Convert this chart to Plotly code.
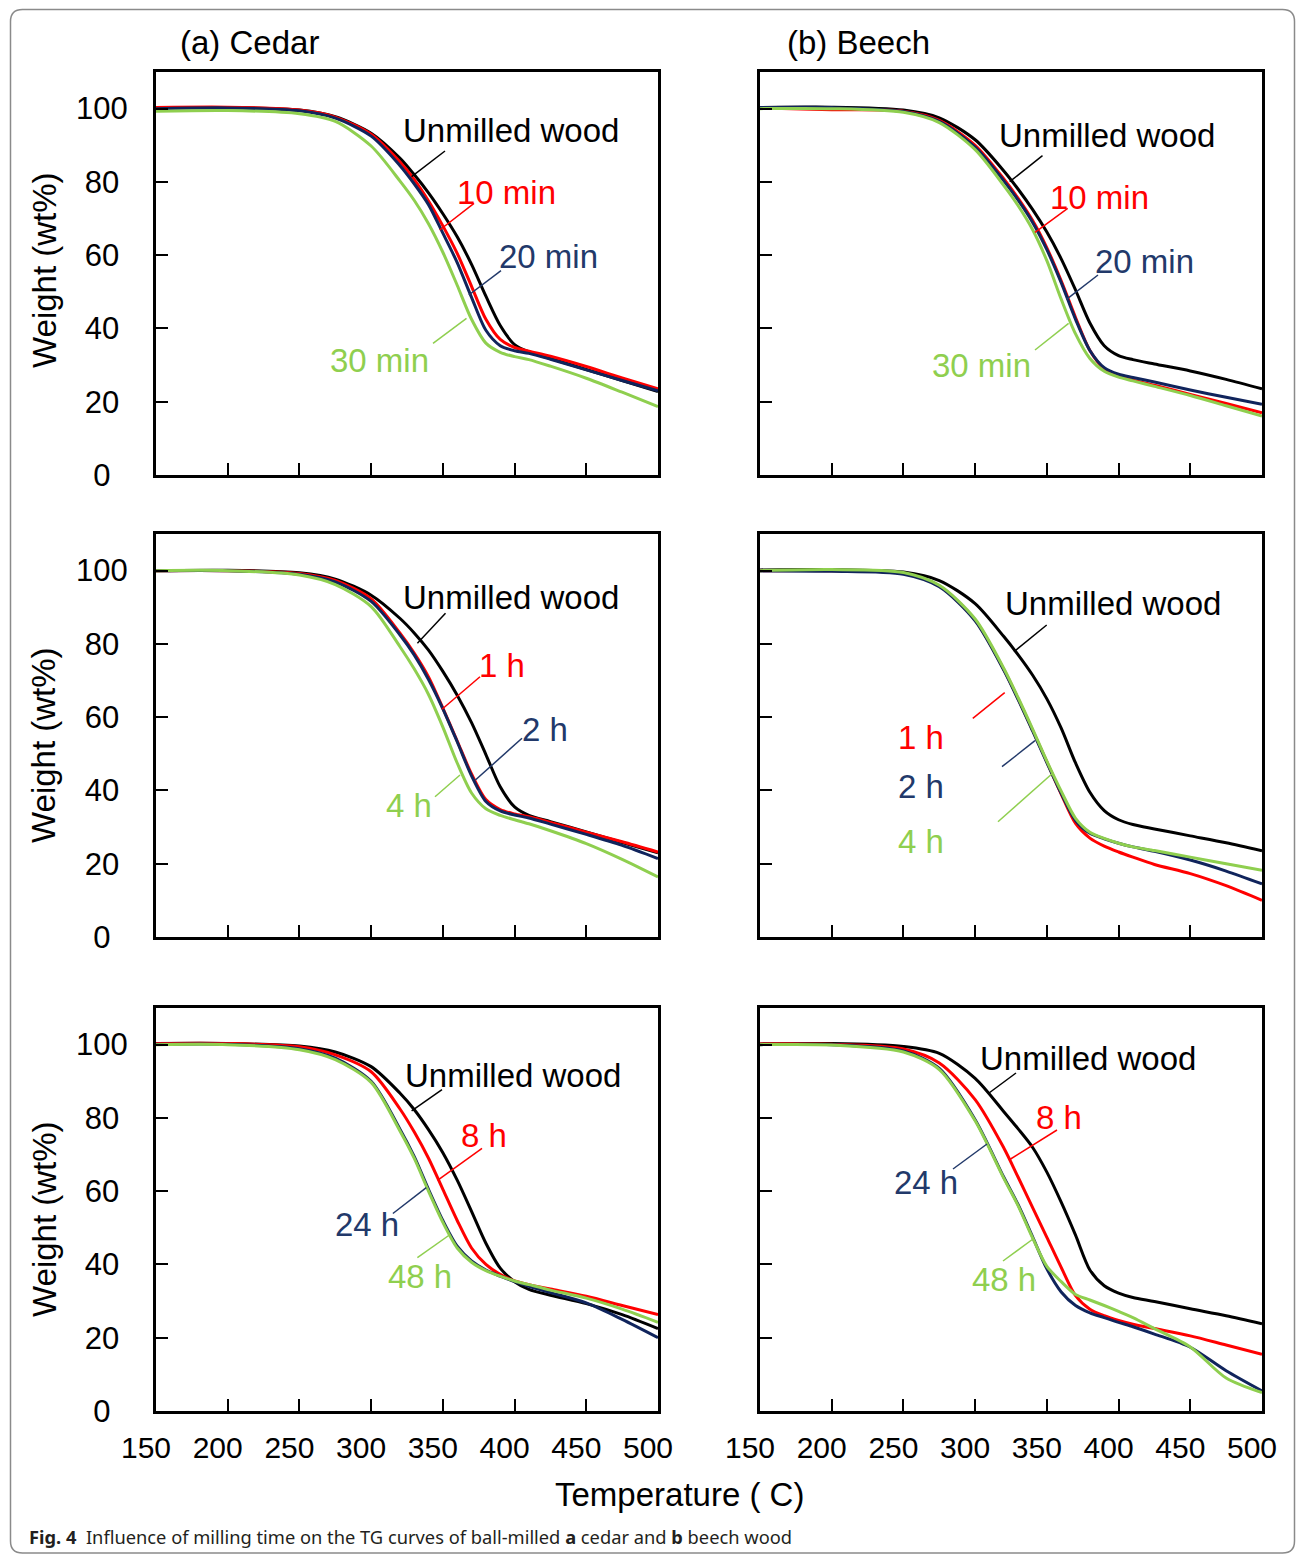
import plotly.graph_objects as go

FIG_W, FIG_H = 1298, 1556

# ---------------- data (temperature in deg C, weight in wt%) ----------------
temps = [150, 200, 250, 275, 300, 320, 330, 340, 350, 360, 370, 380, 390, 400, 410, 425, 450, 475, 500]

# (a) Cedar - 10/20/30 min
cedar_min_unmilled = [100.2, 100.3, 99.6, 97.8, 93.3, 86.5, 82.0, 77.0, 71.3, 65.0, 57.5, 48.8, 40.8, 35.6, 33.6, 31.8, 28.8, 25.8, 22.8]
cedar_10min = [100.3, 100.4, 99.6, 97.7, 93.0, 85.5, 80.7, 74.8, 68.0, 60.5, 51.5, 42.5, 37.0, 34.8, 33.8, 32.4, 29.6, 26.5, 23.5]
cedar_20min = [100.0, 100.2, 99.4, 97.4, 92.5, 84.5, 79.5, 73.8, 66.0, 58.0, 48.5, 39.5, 35.3, 33.9, 33.2, 31.6, 28.7, 25.8, 23.0]
cedar_30min = [99.3, 99.5, 98.6, 96.5, 89.8, 80.3, 75.0, 68.6, 60.8, 51.8, 42.5, 36.0, 33.5, 32.3, 31.5, 29.7, 26.4, 22.6, 18.7]

# (a) Cedar - 1/2/4 h
cedar_h_unmilled = [100.0, 100.1, 99.4, 97.7, 93.3, 87.0, 83.0, 78.3, 72.5, 66.0, 58.5, 49.8, 41.0, 35.5, 33.2, 31.5, 28.7, 25.8, 23.0]
cedar_1h = [100.0, 100.0, 99.2, 97.3, 92.3, 83.0, 77.5, 71.0, 62.5, 53.5, 44.5, 37.5, 34.8, 33.6, 32.8, 31.3, 28.6, 26.0, 23.2]
cedar_2h = [100.0, 100.0, 99.0, 96.9, 91.6, 82.5, 77.0, 70.3, 62.3, 53.3, 44.0, 37.0, 34.4, 33.3, 32.5, 30.8, 28.0, 25.0, 21.4]
cedar_4h = [100.0, 100.0, 98.8, 96.2, 90.2, 79.3, 73.2, 66.2, 57.3, 47.5, 39.3, 35.0, 33.2, 32.0, 30.9, 29.0, 25.5, 21.2, 16.4]

# (a) Cedar - 8/24/48 h
cedar_l_unmilled = [100.3, 100.3, 99.6, 98.0, 94.0, 86.8, 82.3, 76.8, 70.5, 63.0, 54.5, 45.8, 39.0, 35.3, 33.2, 31.6, 29.3, 26.3, 22.5]
cedar_8h = [100.3, 100.3, 99.4, 97.2, 92.6, 82.5, 76.2, 69.0, 60.5, 52.0, 44.5, 40.0, 37.3, 35.5, 34.5, 33.3, 31.3, 28.8, 26.3]
cedar_24h = [100.1, 100.1, 98.9, 96.3, 90.0, 77.0, 69.5, 60.5, 52.0, 45.0, 41.0, 38.5, 36.8, 35.3, 34.0, 32.3, 29.5, 25.0, 20.0]
cedar_48h = [100.0, 100.0, 98.6, 95.9, 89.7, 76.5, 69.0, 60.0, 51.5, 44.5, 40.6, 38.3, 36.8, 35.5, 34.5, 33.0, 30.8, 27.8, 24.2]

# (b) Beech - 10/20/30 min
beech_min_unmilled = [100.3, 100.4, 99.6, 97.5, 91.5, 83.0, 78.0, 72.5, 66.3, 59.0, 50.5, 41.5, 35.3, 32.6, 31.5, 30.3, 28.4, 26.1, 23.5]
beech_10min = [100.2, 99.7, 99.3, 96.8, 90.0, 80.8, 75.5, 69.5, 62.0, 53.0, 43.0, 34.0, 29.0, 27.0, 25.9, 24.5, 22.0, 19.5, 17.0]
beech_20min = [100.3, 100.3, 99.2, 96.5, 89.5, 80.3, 75.0, 69.0, 61.5, 52.5, 42.5, 34.0, 29.3, 27.5, 26.6, 25.4, 23.2, 21.2, 19.3]
beech_30min = [100.0, 100.0, 99.0, 96.2, 88.8, 79.0, 73.5, 67.0, 58.5, 48.0, 38.5, 31.8, 28.3, 26.7, 25.7, 24.2, 21.7, 18.9, 16.1]

# (b) Beech - 1/2/4 h
beech_h_unmilled = [100.2, 100.3, 99.6, 97.3, 91.0, 82.0, 77.0, 71.5, 65.0, 57.0, 47.5, 39.5, 34.5, 32.0, 30.7, 29.5, 27.6, 25.7, 23.5]
beech_1h = [100.0, 100.0, 99.2, 95.8, 86.5, 73.0, 65.0, 56.5, 47.8, 39.0, 31.0, 27.0, 24.8, 23.2, 21.8, 19.8, 17.3, 14.0, 10.0]
beech_2h = [99.9, 99.8, 99.0, 95.6, 86.3, 72.8, 64.8, 56.3, 47.6, 39.2, 31.8, 28.3, 26.8, 25.6, 24.6, 23.4, 21.0, 18.0, 14.5]
beech_4h = [100.0, 100.3, 99.5, 96.0, 86.8, 73.3, 65.3, 56.8, 48.0, 39.8, 32.4, 28.6, 26.9, 25.6, 24.6, 23.6, 21.8, 20.0, 18.2]

# (b) Beech - 8/24/48 h
beech_l_unmilled = [100.2, 100.3, 99.5, 97.6, 90.8, 81.7, 77.0, 72.0, 65.2, 57.0, 48.0, 38.5, 34.2, 32.2, 31.0, 29.9, 27.9, 26.0, 23.8]
beech_8h = [100.2, 100.1, 98.8, 95.0, 85.0, 71.8, 63.8, 55.6, 47.4, 39.2, 31.5, 27.8, 26.0, 24.7, 23.7, 22.5, 20.5, 18.0, 15.5]
beech_24h = [100.0, 100.0, 98.3, 93.5, 79.5, 63.8, 56.3, 47.6, 38.8, 32.5, 28.8, 26.8, 25.5, 24.2, 23.0, 21.0, 17.4, 11.0, 5.5]
beech_48h = [100.0, 99.9, 98.0, 93.2, 79.2, 63.5, 56.0, 47.3, 39.5, 35.3, 31.8, 30.3, 28.8, 27.2, 25.5, 22.5, 17.5, 9.0, 5.0]

x_ticks = [150, 200, 250, 300, 350, 400, 450, 500]
y_ticks = [0, 20, 40, 60, 80, 100]
y_tick_text = ["0\u2007", "20\u2008", "40\u2008", "60\u2008", "80\u2008", "100"]

# ---------------- styles ----------------
C_BLACK = "#000000"
C_RED = "#ff0000"
C_NAVY = "#10245c"
C_NAVY_TXT = "#22396a"
C_GREEN = "#8fcf4f"
FONT = "Liberation Sans, Arial, sans-serif"


def px(x):
    return x / FIG_W


def py(y):
    return 1 - y / FIG_H


col_dom = [[px(156), px(658)], [px(760), px(1262)]]
row_pix = [(475, 72), (937, 534), (1411, 1008)]
row_dom = [[py(b), py(t)] for b, t in row_pix]

panels = [
    (0, 0, [(cedar_min_unmilled, C_BLACK), (cedar_10min, C_RED), (cedar_20min, C_NAVY), (cedar_30min, C_GREEN)]),
    (0, 1, [(beech_min_unmilled, C_BLACK), (beech_10min, C_RED), (beech_20min, C_NAVY), (beech_30min, C_GREEN)]),
    (1, 0, [(cedar_h_unmilled, C_BLACK), (cedar_1h, C_RED), (cedar_2h, C_NAVY), (cedar_4h, C_GREEN)]),
    (1, 1, [(beech_h_unmilled, C_BLACK), (beech_1h, C_RED), (beech_2h, C_NAVY), (beech_4h, C_GREEN)]),
    (2, 0, [(cedar_l_unmilled, C_BLACK), (cedar_8h, C_RED), (cedar_24h, C_NAVY), (cedar_48h, C_GREEN)]),
    (2, 1, [(beech_l_unmilled, C_BLACK), (beech_8h, C_RED), (beech_24h, C_NAVY), (beech_48h, C_GREEN)]),
]

fig = go.Figure()
layout_axes = {}
for i, (r, c, series) in enumerate(panels, start=1):
    sfx = "" if i == 1 else str(i)
    for vals, col in series:
        fig.add_trace(go.Scatter(
            x=temps, y=vals, mode="lines",
            line=dict(color=col, width=3, shape="spline", smoothing=0.8),
            xaxis="x" + sfx, yaxis="y" + sfx, hoverinfo="skip", showlegend=False,
        ))
    common = dict(showline=True, mirror=True, linecolor="black", linewidth=3,
                  ticks="inside", ticklen=12, tickwidth=2, tickcolor="black",
                  showgrid=False, zeroline=False, fixedrange=True, automargin=False)
    layout_axes["xaxis" + sfx] = dict(
        common, domain=col_dom[c], range=[150, 500], anchor="y" + sfx,
        tickvals=x_ticks, ticktext=[str(v) for v in x_ticks],
        showticklabels=(r == 2), ticklabelstandoff=8, ticklabelshift=-10,
        tickfont=dict(family=FONT, size=30, color="black"))
    layout_axes["yaxis" + sfx] = dict(
        common, domain=row_dom[r], range=[0, 110], anchor="x" + sfx,
        tickvals=y_ticks, ticktext=y_tick_text,
        showticklabels=(c == 0), ticklabelstandoff=19,
        tickfont=dict(family=FONT, size=31, color="black"))

# ---------------- curve labels and leader lines (pixel layout) ----------------
labels = [
    ("Unmilled wood", C_BLACK, 401, 130), ("10 min", C_RED, 455, 192.5),
    ("20 min", C_NAVY_TXT, 496.5, 256.5), ("30 min", C_GREEN, 328, 360),
    ("Unmilled wood", C_BLACK, 997, 135), ("10 min", C_RED, 1048, 198),
    ("20 min", C_NAVY_TXT, 1093, 262), ("30 min", C_GREEN, 930, 366),
    ("Unmilled wood", C_BLACK, 401, 597), ("1 h", C_RED, 477, 665.7),
    ("2 h", C_NAVY_TXT, 520, 729), ("4 h", C_GREEN, 384, 805),
    ("Unmilled wood", C_BLACK, 1003, 604), ("1 h", C_RED, 896, 737),
    ("2 h", C_NAVY_TXT, 896, 786), ("4 h", C_GREEN, 896, 841.7),
    ("Unmilled wood", C_BLACK, 403, 1075), ("8 h", C_RED, 459, 1135),
    ("24 h", C_NAVY_TXT, 332.6, 1224.5), ("48 h", C_GREEN, 386, 1276),
    ("Unmilled wood", C_BLACK, 978, 1058), ("8 h", C_RED, 1034, 1117.5),
    ("24 h", C_NAVY_TXT, 892, 1182), ("48 h", C_GREEN, 970, 1279),
]
leaders = [
    (C_BLACK, 445, 151, 411.6, 176.7), (C_RED, 474, 203.3, 439.7, 230),
    (C_NAVY_TXT, 501, 270.7, 468.8, 295), (C_GREEN, 466.5, 318.3, 433, 343.3),
    (C_BLACK, 1042.5, 155.7, 1009.7, 181.7), (C_RED, 1067.7, 208.3, 1035, 232.3),
    (C_NAVY_TXT, 1098, 275, 1066.5, 299.3), (C_GREEN, 1068.6, 323.3, 1035, 350),
    (C_BLACK, 445.5, 613.3, 417.4, 643.3), (C_RED, 480, 676.7, 442, 709.3),
    (C_NAVY_TXT, 522, 738.3, 475.4, 780), (C_GREEN, 435, 796.7, 460, 775),
    (C_BLACK, 1046.7, 625, 1014, 651.7), (C_RED, 1004.7, 692.7, 972.8, 718.3),
    (C_NAVY_TXT, 1035, 740.7, 1002, 766.7), (C_GREEN, 1051.8, 774, 998, 821.7),
    (C_BLACK, 442, 1089.6, 411.6, 1110.9), (C_RED, 482, 1148.4, 437.5, 1180.4),
    (C_NAVY_TXT, 392.9, 1213.5, 426.3, 1187.7), (C_GREEN, 417.4, 1257.6, 448.7, 1235.5),
    (C_BLACK, 1016, 1073, 989, 1093), (C_RED, 1057, 1130, 1009, 1160),
    (C_NAVY_TXT, 953, 1169, 987, 1144), (C_GREEN, 1003, 1261, 1033, 1239),
]

annotations = []
for text, col, lx, cy in labels:
    annotations.append(dict(text=text, x=px(lx), y=py(cy), xref="paper", yref="paper",
                            xanchor="left", yanchor="middle", showarrow=False,
                            font=dict(family=FONT, size=33, color=col)))

for text, lx in [("(a) Cedar", 178), ("(b) Beech", 785)]:
    annotations.append(dict(text=text, x=px(lx), y=py(43), xref="paper", yref="paper",
                            xanchor="left", yanchor="middle", showarrow=False,
                            font=dict(family=FONT, size=33, color="black")))

for cy in [270, 745, 1219]:
    annotations.append(dict(text="Weight (wt%)", x=px(44), y=py(cy), xref="paper", yref="paper",
                            xanchor="center", yanchor="middle", showarrow=False, textangle=-90,
                            font=dict(family=FONT, size=33, color="black")))

annotations.append(dict(text="Temperature ( C)", x=px(679), y=py(1494), xref="paper", yref="paper",
                        xanchor="center", yanchor="middle", showarrow=False,
                        font=dict(family=FONT, size=33, color="black")))

annotations.append(dict(
    text="<b>Fig. 4</b>  Influence of milling time on the TG curves of ball-milled <b>a</b> cedar and <b>b</b> beech wood",
    x=px(27), y=py(1536), xref="paper", yref="paper", xanchor="left", yanchor="middle",
    showarrow=False, font=dict(family="Noto Sans, Open Sans, sans-serif", size=18.3, color="#231f20")))

shapes = []
for col, x0, y0, x1, y1 in leaders:
    shapes.append(dict(type="line", xref="paper", yref="paper",
                       x0=px(x0), y0=py(y0), x1=px(x1), y1=py(y1),
                       line=dict(color=col, width=1.5)))

bx0, by0, bx1, by1, rr = 10.5, 9.5, 1294.5, 1553.0, 12
path = (f"M {px(bx0 + rr)} {py(by0)} L {px(bx1 - rr)} {py(by0)} "
        f"Q {px(bx1)} {py(by0)} {px(bx1)} {py(by0 + rr)} "
        f"L {px(bx1)} {py(by1 - rr)} Q {px(bx1)} {py(by1)} {px(bx1 - rr)} {py(by1)} "
        f"L {px(bx0 + rr)} {py(by1)} Q {px(bx0)} {py(by1)} {px(bx0)} {py(by1 - rr)} "
        f"L {px(bx0)} {py(by0 + rr)} Q {px(bx0)} {py(by0)} {px(bx0 + rr)} {py(by0)} Z")
shapes.append(dict(type="path", xref="paper", yref="paper", path=path,
                   line=dict(color="#8a8a8a", width=1.5), layer="below"))

fig.update_layout(
    template="none",
    width=FIG_W, height=FIG_H, autosize=False,
    margin=dict(l=0, r=0, t=0, b=0, pad=0, autoexpand=False),
    paper_bgcolor="white", plot_bgcolor="white",
    showlegend=False, annotations=annotations, shapes=shapes,
)
fig.update_layout(**layout_axes)

fig.write_html(
    "out.html",
    config={"displayModeBar": False, "responsive": False},
    post_script=("document.documentElement.style.margin='0';"
                 "document.body.style.margin='0';document.body.style.padding='0';"
                 "document.documentElement.style.overflow='hidden';"
                 "document.body.style.overflow='hidden';"),
)
